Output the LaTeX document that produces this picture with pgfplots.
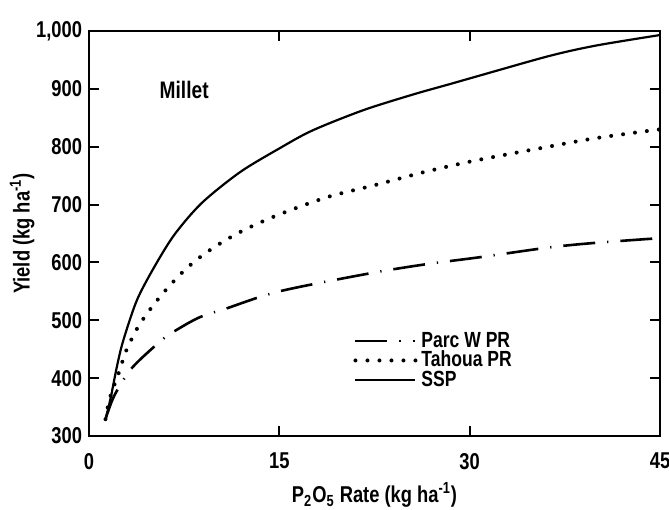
\documentclass[border=0pt]{standalone}
\usepackage{fontspec}
\setmainfont{Liberation Sans}[FakeStretch=0.8]
\usepackage{pgfplots}
\pgfplotsset{compat=1.18}
\usetikzlibrary{calc}
\begin{document}
\begin{tikzpicture}[font=\fontsize{11.5}{13.5}\selectfont\bfseries]
\begin{axis}[
  scale only axis, width=285.5bp, height=202.5bp,
  xmin=0, xmax=45, ymin=300, ymax=1000,
  xtick={0,15,30,45}, ytick={300,400,...,1000},
  tick align=inside, tick pos=both, major tick length=5bp,
  axis line style={line width=1.2pt},
  every tick/.style={line width=1pt, black},
  /pgf/number format/assume math mode=true,
  /pgf/number format/1000 sep={,},
  tick label style={font=\fontsize{11.5}{13.5}\selectfont\bfseries},
  xticklabel style={yshift=-5bp},
  xlabel={P\textsubscript{2}O\textsubscript{5} Rate (kg ha\textsuperscript{-1})},
  ylabel={Yield (kg ha\textsuperscript{-1})},
  xlabel style={at={(axis description cs:0.5,-0.146)}, anchor=center, font=\fontsize{11.5}{13.5}\selectfont\bfseries},
  ylabel style={at={(axis description cs:-0.117,0.5)}, anchor=center, font=\fontsize{11.5}{13.5}\selectfont\bfseries},
  legend style={draw=none, fill=none, at={(rel axis cs:0.452,0.272)}, anchor=north west,
    font=\fontsize{11}{13}\selectfont\bfseries, row sep=-1bp,
    nodes={inner xsep=2bp, inner ysep=0.5bp, text height=8bp, text depth=1.75bp}},
  legend cell align=left,
  legend image code/.code={\draw[#1] (0bp,0bp) -- (30bp,0bp);},
]
\addplot[black, line width=1.3bp, dash pattern=on 16bp off 6bp on 0.6bp off 6bp, smooth] coordinates {
 (1.3,329) (2.0,370) (3.4,418) (5.8,467) (6.8,482) (8.7,505) (10.9,521) (15,550)
 (22.1,581) (26.6,597) (30.8,609) (36.3,626) (40,634) (45,642)};
\addlegendentry{Parc W PR}
\addplot[black, line width=2bp, line cap=round, dash pattern=on 0bp off 6bp, smooth] coordinates {
 (1.3,329) (1.65,366) (2.44,415) (2.9,446) (3.85,488) (4.96,523) (6.2,556) (7.6,588)
 (9.05,614) (10.8,639) (12.5,659) (15,683) (18.8,713) (22.6,734) (26.2,755) (30.2,775)
 (35.7,798) (40,815) (45,830)};
\addlegendentry{Tahoua PR}
\addplot[black, line width=1.1bp, smooth] coordinates {
 (1.3,329) (1.7,365) (2.2,420) (2.7,465) (3.8,536) (5.3,598) (6.8,650) (8.9,703) (11.9,756)
 (15,797) (17.6,828) (21.6,863) (25.5,890) (28.4,908) (30.8,923) (36.3,957) (40,975) (45,993)};
\addlegendentry{SSP}
\node at (axis cs:7.5,898) {\fontsize{12}{14}\selectfont Millet};
\end{axis}
\pgfresetboundingbox
\path ($(current axis.south west)+(-44.5bp,-37bp)$) rectangle ($(current axis.north east)+(4.5bp,15.5bp)$);
\end{tikzpicture}
\end{document}
